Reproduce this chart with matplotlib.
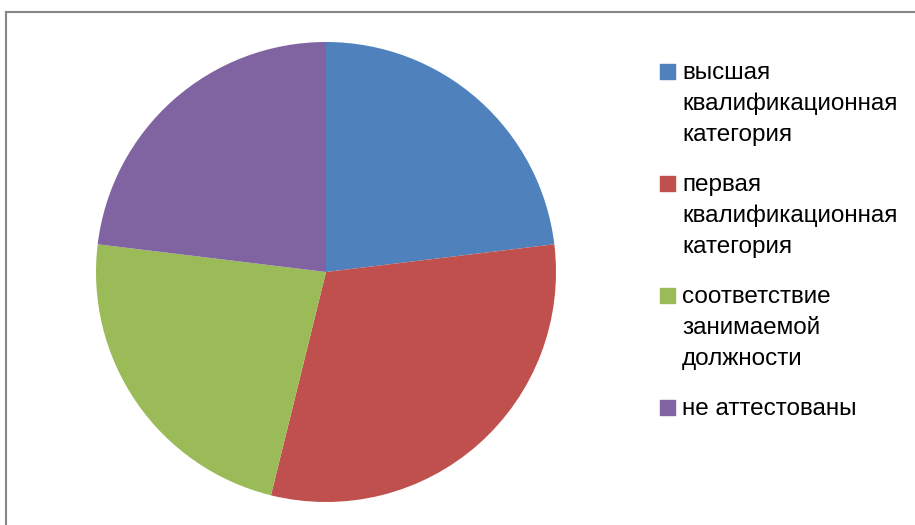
import matplotlib.pyplot as plt
from matplotlib.patches import Rectangle
from matplotlib.lines import Line2D

# данные
categories = ["высшая\nквалификационная\nкатегория",
              "первая\nквалификационная\nкатегория",
              "соответствие\nзанимаемой\nдолжности",
              "не аттестованы"]
values = [3, 4, 3, 3]
colors = ["#4F81BD", "#C0504D", "#9BBB59", "#8064A2"]

W, H = 915, 525
fig = plt.figure(figsize=(W / 100, H / 100), dpi=100)
plt.rcParams['font.family'] = ['Liberation Sans', 'DejaVu Sans']

# рамка диаграммы (видны только верх и левый край)
fig.add_artist(Line2D([6 / W, 6 / W], [0, 1 - 12 / H], color="#868686", lw=1.5))
fig.add_artist(Line2D([6 / W, 1], [1 - 12 / H, 1 - 12 / H], color="#868686", lw=1.5))

# круговая диаграмма
ax = fig.add_axes([96 / W, 23 / H, 460 / W, 460 / H])
wedges, _ = ax.pie(values, colors=colors, startangle=90, counterclock=False,
                   radius=1.0, wedgeprops=dict(linewidth=0))
ax.set_xlim(-1, 1)
ax.set_ylim(-1, 1)
ax.set_aspect("equal")

# легенда
y0 = 79
step = 112
fs = 17.5
for i, (lab, col) in enumerate(zip(categories, colors)):
    yb = y0 + i * step
    fig.add_artist(Rectangle((660 / W, 1 - yb / H), 15 / W, 15 / H,
                             transform=fig.transFigure, color=col))
    for k, line in enumerate(lab.split("\n")):
        fig.text(682 / W, 1 - (yb + 31 * k) / H, line, fontsize=fs,
                 va="baseline", ha="left", color="#000000")

fig.savefig("out.png", dpi=100)
